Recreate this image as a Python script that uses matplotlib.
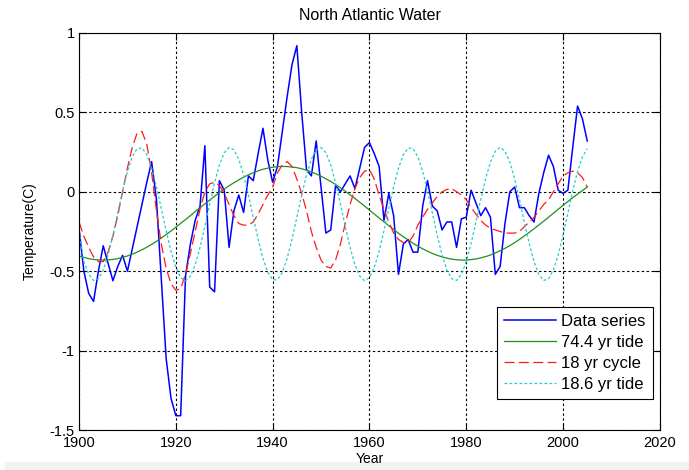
import matplotlib
matplotlib.use("Agg")
import matplotlib.pyplot as plt
from matplotlib.patches import Rectangle

# years of the record
years = list(range(1900, 2006))

# Data series
data_series = [
    -0.23, -0.50, -0.64, -0.69, -0.50, -0.34, -0.45, -0.56, -0.47, -0.40,
    -0.50, -0.36, -0.22, -0.08, 0.06, 0.19, -0.05, -0.55, -1.05, -1.30,
    -1.41, -1.41, -0.53, -0.33, -0.18, -0.09, 0.29, -0.60, -0.63, 0.07,
    0.01, -0.35, -0.12, -0.02, -0.13, 0.10, 0.07, 0.24, 0.40, 0.20,
    0.06, 0.16, 0.38, 0.60, 0.80, 0.92, 0.50, 0.14, 0.10, 0.32,
    0.03, -0.26, -0.24, 0.04, 0.00, 0.05, 0.10, 0.02, 0.15, 0.28,
    0.31, 0.24, 0.16, -0.18, -0.01, -0.15, -0.52, -0.33, -0.30, -0.38,
    -0.38, -0.09, 0.07, -0.09, -0.12, -0.24, -0.19, -0.19, -0.35, -0.17,
    -0.16, 0.01, -0.07, -0.15, -0.10, -0.16, -0.52, -0.47, -0.20, 0.00,
    0.03, -0.10, -0.10, -0.15, -0.19, -0.01, 0.12, 0.23, 0.16, 0.01,
    -0.01, 0.01, 0.28, 0.54, 0.46, 0.32,
]

# 74.4 yr tide
tide_744 = [
    -0.404, -0.413, -0.421, -0.426, -0.429, -0.430, -0.429, -0.426, -0.421, -0.413,
    -0.404, -0.393, -0.380, -0.365, -0.349, -0.331, -0.312, -0.291, -0.269, -0.247,
    -0.223, -0.199, -0.175, -0.150, -0.125, -0.100, -0.076, -0.052, -0.028, -0.005,
    0.017, 0.038, 0.057, 0.075, 0.092, 0.107, 0.120, 0.132, 0.142, 0.149,
    0.155, 0.158, 0.160, 0.159, 0.156, 0.152, 0.145, 0.136, 0.125, 0.113,
    0.098, 0.082, 0.065, 0.046, 0.025, 0.004, -0.019, -0.042, -0.066, -0.090,
    -0.115, -0.140, -0.165, -0.189, -0.214, -0.237, -0.261, -0.283, -0.303, -0.324,
    -0.342, -0.359, -0.374, -0.388, -0.400, -0.410, -0.418, -0.424, -0.428, -0.430,
    -0.430, -0.427, -0.423, -0.416, -0.408, -0.398, -0.385, -0.371, -0.356, -0.339,
    -0.320, -0.300, -0.278, -0.256, -0.233, -0.209, -0.185, -0.160, -0.135, -0.110,
    -0.085, -0.061, -0.037, -0.014, 0.008, 0.030,
]

# 18 yr cycle
cycle_18 = [
    -0.19, -0.28, -0.35, -0.41, -0.44, -0.44, -0.38, -0.28, -0.15, 0.00,
    0.15, 0.28, 0.37, 0.38, 0.30, 0.12, -0.12, -0.33, -0.48, -0.58,
    -0.62, -0.61, -0.52, -0.39, -0.25, -0.11, 0.00, 0.05, 0.06, 0.04,
    -0.01, -0.08, -0.15, -0.20, -0.21, -0.21, -0.19, -0.14, -0.08, -0.02,
    0.03, 0.12, 0.17, 0.19, 0.16, 0.08, -0.01, -0.12, -0.25, -0.35,
    -0.43, -0.47, -0.48, -0.43, -0.33, -0.20, -0.08, 0.02, 0.09, 0.13,
    0.14, 0.08, -0.02, -0.11, -0.19, -0.26, -0.30, -0.32, -0.32, -0.28,
    -0.21, -0.16, -0.11, -0.07, -0.03, 0.00, 0.015, 0.02, 0.00, -0.02,
    -0.05, -0.10, -0.14, -0.18, -0.21, -0.23, -0.24, -0.25, -0.26, -0.26,
    -0.26, -0.25, -0.22, -0.19, -0.16, -0.12, -0.08, -0.05, 0.00, 0.05,
    0.10, 0.12, 0.13, 0.12, 0.09, 0.03,
]

# 18.6 yr tide
tide_186 = [
    -0.25, -0.439, -0.520, -0.558, -0.548, -0.493, -0.397, -0.273, -0.133, 0.006,
    0.128, 0.220, 0.272, 0.276, 0.234, 0.149, 0.032, -0.105, -0.245, -0.374,
    -0.476, -0.541, -0.560, -0.531, -0.459, -0.350, -0.217, -0.077, 0.058, 0.169,
    0.246, 0.279, 0.265, 0.205, 0.106, -0.021, -0.161, -0.299, -0.419, -0.507,
    -0.554, -0.554, -0.507, -0.419, -0.299, -0.161, -0.021, 0.106, 0.205, 0.265,
    0.279, 0.246, 0.169, 0.058, -0.077, -0.217, -0.350, -0.459, -0.531, -0.560,
    -0.541, -0.476, -0.374, -0.245, -0.105, 0.032, 0.149, 0.234, 0.276, 0.272,
    0.220, 0.128, 0.006, -0.133, -0.273, -0.397, -0.493, -0.548, -0.558, -0.520,
    -0.439, -0.325, -0.190, -0.048, 0.082, 0.188, 0.256, 0.280, 0.256, 0.188,
    0.082, -0.048, -0.190, -0.325, -0.439, -0.520, -0.558, -0.548, -0.493, -0.397,
    -0.273, -0.133, 0.006, 0.128, 0.220, 0.272,
]

x_ticks = [1900, 1920, 1940, 1960, 1980, 2000, 2020]
y_ticks = [-1.5, -1, -0.5, 0, 0.5, 1]
y_tick_labels = ["-1.5", "-1", "-0.5", "0", "0.5", "1"]

plt.rcParams["font.family"] = ["Liberation Sans", "DejaVu Sans"]
plt.rcParams["font.size"] = 10

fig = plt.figure(figsize=(6.89, 4.70), dpi=100)
# light grey strip along the bottom edge of the screenshot
fig.patches.append(Rectangle((0.007, 0), 0.993, 0.018, transform=fig.transFigure,
                             color="#f2f2f2", zorder=-5))
ax = fig.add_axes([0.1147, 0.0851, 0.843, 0.8447])

ax.plot(years, data_series, color="#0000ff", linewidth=1.1, label="Data series")
ax.plot(years, tide_744, color="#1f8f1f", linewidth=0.9, label="74.4 yr tide")
ax.plot(years, cycle_18, color="#ff1a1a", linewidth=0.9, dashes=(8, 3.5),
        label="18 yr cycle")
ax.plot(years, tide_186, color="#22cccc", linewidth=0.9, dashes=(2.2, 1.8),
        label="18.6 yr tide")

ax.set_xlim(1900, 2020)
ax.set_ylim(-1.5, 1)
ax.set_xticks(x_ticks)
ax.set_yticks(y_ticks)
ax.set_yticklabels(y_tick_labels)
ax.tick_params(direction="in", length=5, width=0.8, top=True, right=True,
               labelsize=10.5, pad=3)
ax.tick_params(axis="x", pad=4)
ax.grid(True, color="black", linestyle=(0, (2.2, 2.2)), linewidth=0.8)
for s in ax.spines.values():
    s.set_linewidth(0.8)

ax.set_title("North Atlantic Water", fontsize=11.5, pad=9)
ax.set_xlabel("Year", fontsize=10, labelpad=2)
ax.set_ylabel("Temperature(C)", fontsize=10, labelpad=9)

leg = ax.legend(loc="lower right", bbox_to_anchor=(0.988, 0.078),
                borderaxespad=0, fancybox=False, framealpha=1,
                edgecolor="black", handlelength=3.1, labelspacing=0.35,
                fontsize=12, borderpad=0.45, handletextpad=0.3)
leg.get_frame().set_linewidth(0.8)

fig.savefig("out.png", dpi=100)
